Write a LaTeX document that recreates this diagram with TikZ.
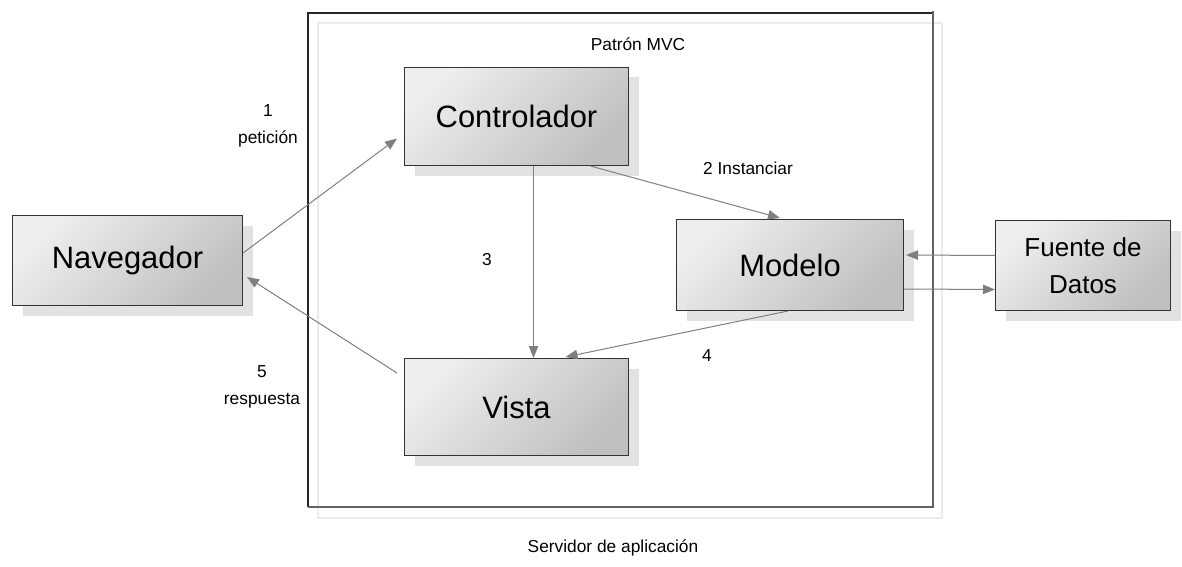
\documentclass[tikz,border=0pt]{standalone}
\usepackage{fontspec}
\setmainfont{Liberation Sans}
\usetikzlibrary{arrows.meta,calc,shadows}
\definecolor{arrowgray}{HTML}{7F7F7F}
\definecolor{shadowgray}{HTML}{E2E2E2}
\definecolor{boxlight}{HTML}{EEEEEE}
\definecolor{boxdark}{HTML}{C0C0C0}
\definecolor{framelight}{HTML}{EBEBEB}
\begin{document}
\begin{tikzpicture}[x=0.75pt,y=-0.75pt,
  box/.style={draw=black!80, line width=0.75pt, shading=axis, top color=boxlight,
    bottom color=boxdark, shading angle=45, anchor=north west, inner sep=0pt,
    align=center, font=\fontsize{23.2}{27}\selectfont,
    drop shadow={shadow xshift=7.5pt, shadow yshift=-7.5pt, fill=shadowgray, opacity=1}},
  conn/.style={draw=arrowgray, line width=0.75pt, -{Triangle[length=9pt,width=7pt]}},
  lbl/.style={font=\fontsize{13}{20}\selectfont, align=center, inner sep=0pt}]
\useasboundingbox (0,0) rectangle (1182,567);
% server frame
\draw[framelight, line width=1pt] (318,23) rectangle (942,518);
\draw[black!85, line width=1.1pt] (308,507) -- (308,13) -- (933,13);
\draw[black!62, line width=1.5pt] (933,11) -- (933,507) -- (307.5,507);
% boxes
\node[box, minimum width=172.5pt, minimum height=67.5pt] (nav) at (12,215) {Navegador};
\node[box, minimum width=168pt, minimum height=73.5pt] (ctrl) at (404,67) {Controlador};
\node[box, minimum width=168pt, minimum height=72.75pt] (vista) at (404,358) {Vista};
\node[box, minimum width=170.25pt, minimum height=68.25pt] (model) at (676,219) {Modelo};
\node[box, minimum width=131.25pt, minimum height=67.5pt, font=\fontsize{19.5}{27.5}\selectfont] (fuente) at (995,220) {Fuente de\\Datos};
% connectors
\draw[conn] ($(nav.north east)+(0,38)$) -- ($(ctrl.west)+(-7,22)$);
\draw[conn] ($(vista.north west)+(-7,15)$) -- ($(nav.north east)+(4,62)$);
\draw[conn] ($(ctrl.south)+(17,0)$) -- ($(vista.north)+(17,0)$);
\draw[conn] ($(ctrl.south)+(74,0)$) -- ($(model.north)+(-10,-1)$);
\draw[conn] ($(model.south)+(-2,0)$) -- ($(vista.north)+(49,-1)$);
\draw[conn] ($(fuente.west)+(0,-10)$) -- ($(model.east)+(2,-10)$);
\draw[conn] ($(model.east)+(0,24)$) -- ($(fuente.west)+(0,24)$);
% labels
\node[lbl] (l1) at (268,126) {1\\petición};
\node[lbl] (l2) at (748,168) {2 Instanciar};
\node[lbl] (l3) at (487,260) {3};
\node[lbl] (l4) at (707,356) {4};
\node[lbl] (l5) at (262,387) {5\\respuesta};
\node[lbl] (title) at (638,44) {Patrón MVC};
\node[lbl] (server) at (613,548) {Servidor de aplicación};
\end{tikzpicture}
\end{document}
